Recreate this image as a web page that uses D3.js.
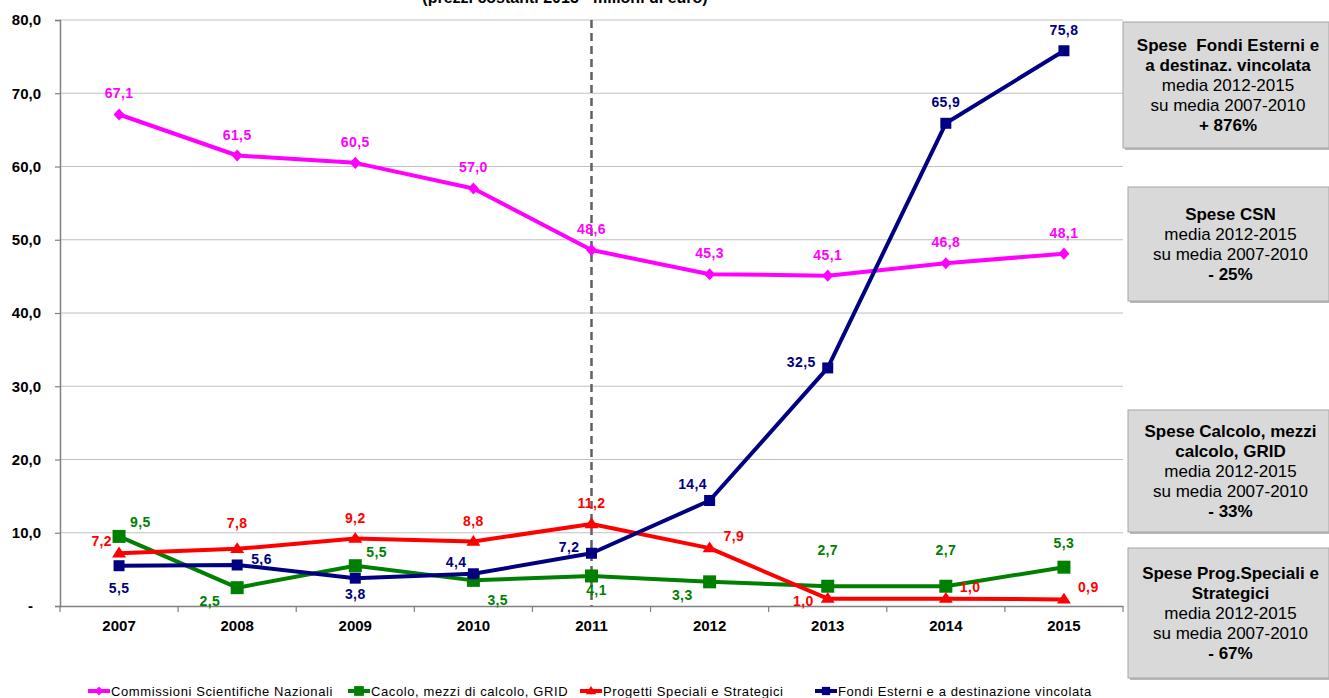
<!DOCTYPE html>
<html><head><meta charset="utf-8">
<script src="https://cdn.jsdelivr.net/npm/d3@7"></script>
<style>
body{margin:0;background:#fff;}
svg{display:block;font-family:Arial,"Liberation Sans",sans-serif;}
</style></head>
<body><svg id="c" width="1329" height="698"></svg>
<script>
const years = ["2007","2008","2009","2010","2011","2012","2013","2014","2015"];
const yTicks = [0,10,20,30,40,50,60,70,80];
const seriesNames = ["Commissioni Scientifiche Nazionali","Cacolo, mezzi di calcolo, GRID","Progetti Speciali e Strategici","Fondi Esterni e a destinazione vincolata"];
const csn = [67.1,61.5,60.5,57.0,48.6,45.3,45.1,46.8,48.1];
const calcolo = [9.5,2.5,5.5,3.5,4.1,3.3,2.7,2.7,5.3];
const progetti = [7.2,7.8,9.2,8.8,11.2,7.9,1.0,1.0,0.9];
const fondi = [5.5,5.6,3.8,4.4,7.2,14.4,32.5,65.9,75.8];
const title = "(prezzi costanti 2015 - milioni di euro)";
const boxTexts = [
  [["Spese  Fondi Esterni e",1],["a destinaz. vincolata",1],["media 2012-2015",0],["su media 2007-2010",0],["+ 876%",1]],
  [["Spese CSN",1],["media 2012-2015",0],["su media 2007-2010",0],["- 25%",1]],
  [["Spese Calcolo, mezzi",1],["calcolo, GRID",1],["media 2012-2015",0],["su media 2007-2010",0],["- 33%",1]],
  [["Spese Prog.Speciali e",1],["Strategici",1],["media 2012-2015",0],["su media 2007-2010",0],["- 67%",1]]
];

// styling / placement (not data)
const colors = ["#ff00ff","#008000","#ff0000","#000080"];
const markers = ["diamond","square","triangle","square"];
const markerHalf = [5.5,6.5,7,5.5];
const placements = [
  ["t","t","t","t","t","t","t","t","t"],
  ["tr","bl","tr","br","b2","bl","tt","tt","t3"],
  ["tl","t2","t","t","t","r","lb","r","r"],
  ["bb","r0","b","tl","l","tc","l","t","t"]
];
const boxGeo = [[1123,22,206,126],[1128,187,201,114],[1128,410,201,122],[1128,548,201,130]];

const svg = d3.select("#c");
const x = d3.scaleBand().domain(years).range([60,1123]).padding(0);
const cx = d => x(d) + x.bandwidth()/2;
const y = d3.scaleLinear().domain([0,80]).range([606,20]);
const fmt = v => v === 0 ? "-" : d3.format(".1f")(v).replace(".",",");

// title (cut at the top edge, as in the reference)
svg.append("text").attr("x",565).attr("y",3).attr("text-anchor","middle")
  .attr("font-weight","bold").attr("font-size",16).attr("fill","#000").text(title);

// gridlines
svg.append("g").selectAll("line").data(yTicks.filter(d=>d>0)).join("line")
  .attr("x1",60).attr("x2",1123).attr("y1",d=>y(d)).attr("y2",d=>y(d))
  .attr("stroke","#c0c0c0").attr("stroke-width",1.2);

// y axis
const ya = svg.append("g").attr("transform","translate(60,0)")
  .call(d3.axisLeft(y).tickValues(yTicks).tickFormat(fmt).tickSize(5).tickPadding(14));
ya.select(".domain").attr("stroke","#808080").attr("stroke-width",1.5);
ya.selectAll(".tick line").attr("stroke","#808080").attr("stroke-width",1.2);
ya.selectAll(".tick text").attr("font-size",15).attr("font-weight","bold").attr("fill","#000")
  .attr("font-family","Arial,'Liberation Sans',sans-serif")
  .attr("dx",d=>d===0?-8:0);

// x axis
const xa = svg.append("g").attr("transform","translate(0,606)")
  .call(d3.axisBottom(x).tickSize(0).tickPadding(14));
xa.select(".domain").attr("stroke","#808080").attr("stroke-width",1.5);
xa.selectAll(".tick text").attr("font-size",15).attr("font-weight","bold").attr("fill","#000").attr("font-family","Arial,'Liberation Sans',sans-serif");
svg.append("g").selectAll("line").data(d3.range(years.length+1)).join("line")
  .attr("x1",i=>60+i*x.bandwidth()).attr("x2",i=>60+i*x.bandwidth())
  .attr("y1",606).attr("y2",612).attr("stroke","#808080").attr("stroke-width",1.2);

// dashed line at 2011
svg.append("line").attr("x1",cx("2011")).attr("x2",cx("2011")).attr("y1",y(80)).attr("y2",y(0))
  .attr("stroke","#606060").attr("stroke-width",2.5).attr("stroke-dasharray","8,5");

const allSeries = [csn,calcolo,progetti,fondi];
function markerPath(type,h){
  const p = d3.path();
  if(type==="diamond"){ p.moveTo(0,-h*1.1); p.lineTo(h,0); p.lineTo(0,h*1.1); p.lineTo(-h,0); p.closePath(); }
  else if(type==="square"){ p.rect(-h,-h,2*h,2*h); }
  else { p.moveTo(0,-h*0.95); p.lineTo(h,h*0.6); p.lineTo(-h,h*0.6); p.closePath(); }
  return p.toString();
}
const line = d3.line().x((d,i)=>cx(years[i])).y(d=>y(d));

allSeries.forEach((s,k)=>{
  const g = svg.append("g");
  g.append("path").datum(s).attr("d",line).attr("fill","none")
    .attr("stroke",colors[k]).attr("stroke-width",4).attr("stroke-linejoin","round");
  g.selectAll("path.m").data(s).join("path").attr("class","m")
    .attr("transform",(d,i)=>`translate(${cx(years[i])},${y(d)})`)
    .attr("d",markerPath(markers[k],markerHalf[k]))
    .attr("fill",colors[k]);
});

// data labels
const off = {t:[0,-16,"middle"],t2:[0,-21,"middle"],tt:[0,-31,"middle"],t3:[0,-19,"middle"],
  tc:[-17,-12,"middle"],b:[0,21,"middle"],bb:[0,27,"middle"],b2:[5,19,"middle"],
  tr:[11,-9,"start"],tl:[-7,-7,"end"],bl:[-17,18,"end"],br:[14,25,"start"],
  r:[14,-7,"start"],r0:[14,-1,"start"],l:[-12,-1,"end"],lb:[-14,7,"end"]};
allSeries.forEach((s,k)=>{
  svg.append("g").selectAll("text").data(s).join("text")
    .attr("x",(d,i)=>cx(years[i])+off[placements[k][i]][0])
    .attr("y",(d,i)=>y(d)+off[placements[k][i]][1])
    .attr("text-anchor",(d,i)=>off[placements[k][i]][2])
    .attr("font-size",14).attr("font-weight","bold").attr("letter-spacing",0.4).attr("fill",colors[k])
    .text(d=>fmt(d));
});

// right boxes
boxTexts.forEach((lines,b)=>{
  const [bx,by,bw,bh] = boxGeo[b];
  svg.append("rect").attr("x",bx+2).attr("y",by+2).attr("width",bw).attr("height",bh).attr("fill","#b8b8b8");
  svg.append("rect").attr("x",bx).attr("y",by).attr("width",bw).attr("height",bh)
    .attr("fill","#d9d9d9").attr("stroke","#a6a6a6").attr("stroke-width",1);
  const n = lines.length, lh = 20;
  const start = by + bh/2 - (n-1)*lh/2 + 6;
  svg.append("g").selectAll("text").data(lines).join("text")
    .attr("x",bx+bw/2+2).attr("y",(d,i)=>start+i*lh).attr("text-anchor","middle")
    .attr("font-size",17).attr("font-weight",d=>d[1]?"bold":"normal").attr("fill","#000")
    .style("white-space","pre")
    .text(d=>d[0]);
});

// legend
const legX = [88,348,580,815];
const lg = svg.append("g").attr("transform","translate(0,691)");
seriesNames.forEach((n,k)=>{
  lg.append("line").attr("x1",legX[k]).attr("x2",legX[k]+22).attr("y1",0).attr("y2",0)
    .attr("stroke",colors[k]).attr("stroke-width",4);
  lg.append("path").attr("transform",`translate(${legX[k]+11},0)`)
    .attr("d",markerPath(markers[k],markerHalf[k]*0.75)).attr("fill",colors[k]);
  lg.append("text").attr("x",legX[k]+23).attr("y",5).attr("font-size",13).attr("letter-spacing",0.6)
    .attr("fill","#000").text(n);
});
</script></body></html>
